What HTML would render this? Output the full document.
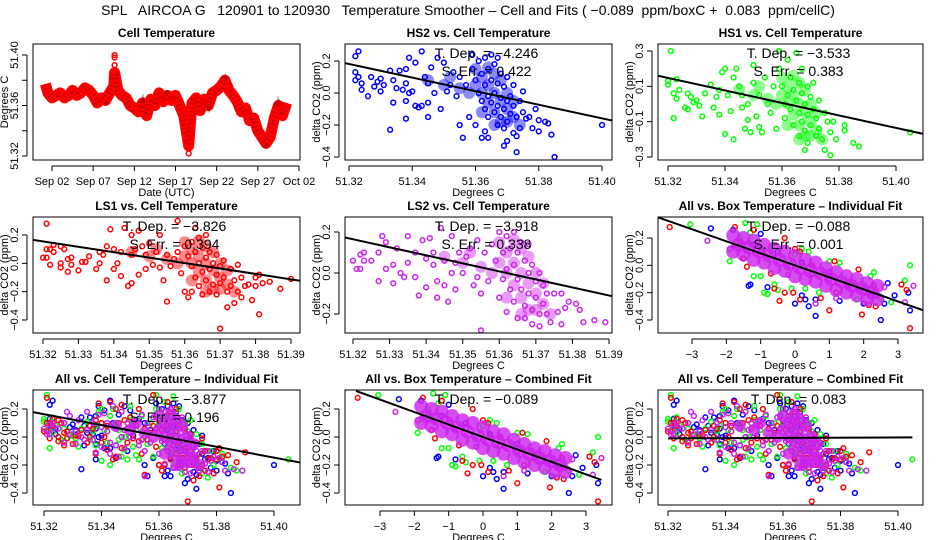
<!DOCTYPE html>
<html><head><meta charset="utf-8">
<style>
html,body{margin:0;padding:0;background:#fff;}
svg{display:block;font-family:"Liberation Sans",Arial,sans-serif;}
</style></head>
<body>
<svg id="chart" width="936" height="540" viewBox="0 0 936 540" xmlns="http://www.w3.org/2000/svg">
<rect width="936" height="540" fill="#fff"/>
<text x="468" y="15" font-size="14" text-anchor="middle" xml:space="preserve">SPL   AIRCOA G   120901 to 120930   Temperature Smoother – Cell and Fits ( −0.089  ppm/boxC +  0.083  ppm/cellC)</text>
</svg>
<script>
// ---- data ----
const cellDays = [1.2,1.5,2,2.5,3,3.5,4,4.5,5,5.5,6,6.5,7,7.5,8,8.5,9,9.5,9.6,10,10.5,11,11.5,12,12.5,13,13.5,14,14.5,15,15.5,16,16.5,17,17.5,18,18.3,18.6,19,19.5,20,20.5,21,21.5,22,22.5,23,23.5,24,24.5,25,25.5,26,26.5,27,27.5,28,28.5,29,29.5,30,30.5];
const cellTemps = [51.377,51.370,51.366,51.368,51.370,51.366,51.368,51.372,51.368,51.370,51.374,51.372,51.368,51.362,51.366,51.364,51.370,51.375,51.386,51.372,51.368,51.366,51.360,51.358,51.355,51.362,51.352,51.365,51.360,51.370,51.363,51.368,51.364,51.368,51.360,51.352,51.340,51.328,51.362,51.366,51.356,51.365,51.360,51.370,51.372,51.375,51.380,51.372,51.368,51.363,51.355,51.358,51.348,51.350,51.340,51.335,51.330,51.335,51.350,51.360,51.352,51.362];
const cellOutliers = [[9.6,51.400],[9.6,51.398],[9.6,51.392],[18.6,51.322],[18.6,51.326]];
const dayTicks = [2,7,12,17,22,27,32];
const dayLabels = ["Sep 02","Sep 07","Sep 12","Sep 17","Sep 22","Sep 27","Oct 02"];

const hs2 = [[51.322,0.23],[51.323,0.26],[51.322,0.13],[51.322,0.08],[51.323,0.1],[51.324,0.06],[51.324,0.02],[51.326,-0.02],[51.327,0.1],[51.328,0.04],[51.329,0.07],[51.330,0.09],[51.330,0.01],[51.331,0.05],[51.333,0.14],[51.333,-0.23],[51.334,0.08],[51.334,-0.06],[51.335,0.03],[51.336,0.14],[51.337,0.02],[51.338,0.15],[51.338,0.06],[51.338,-0.05],[51.338,-0.16],[51.339,0.22],[51.339,0.0],[51.340,0.01],[51.341,0.19],[51.341,-0.08],[51.342,-0.09],[51.343,0.26],[51.343,-0.08],[51.344,0.1],[51.345,0.06],[51.345,-0.06],[51.345,-0.15],[51.346,0.16],[51.347,0.0],[51.348,0.22],[51.349,-0.1],[51.350,0.19],[51.351,0.01],[51.352,0.05],[51.353,0.13],[51.354,-0.02],[51.355,0.1],[51.355,-0.2],[51.356,-0.28],[51.357,0.05],[51.358,-0.15],[51.359,0.24],[51.360,-0.2],[51.362,-0.28],[51.363,-0.24],[51.359,0.15],[51.360,0.08],[51.361,0.2],[51.361,0.0],[51.362,0.12],[51.362,-0.05],[51.363,0.22],[51.363,0.05],[51.363,-0.1],[51.364,0.15],[51.364,-0.02],[51.364,-0.15],[51.365,0.24],[51.365,0.08],[51.365,-0.06],[51.366,0.18],[51.366,0.0],[51.366,-0.12],[51.367,0.22],[51.367,0.06],[51.367,-0.08],[51.367,-0.2],[51.368,0.12],[51.368,-0.03],[51.368,-0.15],[51.369,0.04],[51.369,-0.1],[51.369,-0.22],[51.370,0.1],[51.370,-0.05],[51.370,-0.18],[51.371,-0.02],[51.371,-0.13],[51.372,0.05],[51.372,-0.08],[51.372,-0.25],[51.373,-0.15],[51.373,-0.27],[51.374,-0.05],[51.375,0.01],[51.375,-0.12],[51.376,-0.16],[51.374,-0.22],[51.369,-0.33],[51.373,-0.37],[51.377,-0.15],[51.378,-0.22],[51.379,-0.1],[51.380,-0.17],[51.380,-0.24],[51.382,-0.18],[51.383,-0.19],[51.384,-0.26],[51.385,-0.4],[51.400,-0.2],[51.364,-0.28],[51.370,-0.3]];
const hs1 = [[51.321,0.3],[51.320,0.13],[51.320,0.11],[51.322,-0.08],[51.322,0.06],[51.323,0.14],[51.323,0.03],[51.324,0.08],[51.326,-0.02],[51.327,0.06],[51.327,-0.03],[51.328,0.04],[51.329,0.01],[51.330,0.02],[51.331,-0.01],[51.332,-0.07],[51.333,0.06],[51.335,0.11],[51.336,-0.02],[51.337,0.04],[51.338,-0.06],[51.338,0.08],[51.339,0.18],[51.340,0.2],[51.340,-0.17],[51.341,0.05],[51.342,-0.04],[51.343,0.15],[51.343,-0.2],[51.344,0.2],[51.345,0.1],[51.346,0.05],[51.346,-0.02],[51.347,-0.14],[51.348,0.0],[51.348,-0.09],[51.349,-0.16],[51.350,0.22],[51.350,0.12],[51.351,-0.07],[51.352,0.05],[51.352,-0.13],[51.353,-0.16],[51.354,0.15],[51.355,0.0],[51.356,-0.05],[51.357,0.1],[51.358,-0.14],[51.359,0.3],[51.359,0.2],[51.360,0.1],[51.361,0.0],[51.361,-0.08],[51.362,0.25],[51.362,0.05],[51.363,0.15],[51.363,-0.03],[51.364,0.08],[51.364,-0.12],[51.365,0.29],[51.365,0.02],[51.366,0.12],[51.366,-0.05],[51.366,-0.18],[51.367,0.2],[51.367,0.06],[51.367,-0.1],[51.368,0.0],[51.368,-0.15],[51.369,0.1],[51.369,-0.06],[51.369,-0.22],[51.370,0.04],[51.370,-0.12],[51.371,0.12],[51.371,-0.03],[51.372,-0.08],[51.372,-0.18],[51.373,0.02],[51.373,-0.14],[51.374,-0.2],[51.375,-0.05],[51.375,-0.26],[51.376,-0.1],[51.377,-0.16],[51.377,-0.29],[51.368,-0.26],[51.378,-0.1],[51.379,-0.2],[51.382,-0.12],[51.382,-0.15],[51.385,-0.22],[51.387,-0.24],[51.405,-0.16]];
const ls1 = [[51.321,0.28],[51.320,0.04],[51.321,0.04],[51.321,0.1],[51.322,0.1],[51.322,-0.01],[51.323,0.13],[51.323,0.08],[51.325,0.12],[51.325,0.0],[51.325,-0.03],[51.326,0.1],[51.327,0.03],[51.327,-0.06],[51.328,0.04],[51.328,-0.01],[51.330,-0.05],[51.331,0.01],[51.332,0.01],[51.333,0.05],[51.335,-0.04],[51.336,0.08],[51.336,0.0],[51.337,0.06],[51.338,0.12],[51.338,-0.12],[51.339,0.24],[51.340,0.1],[51.340,-0.04],[51.341,0.0],[51.342,0.08],[51.342,-0.09],[51.343,0.25],[51.344,-0.16],[51.345,0.2],[51.345,0.06],[51.345,-0.14],[51.346,0.1],[51.347,0.23],[51.347,-0.08],[51.348,0.12],[51.349,0.06],[51.349,-0.04],[51.350,0.14],[51.351,-0.01],[51.352,0.08],[51.353,0.2],[51.353,-0.03],[51.354,-0.12],[51.355,-0.27],[51.355,0.06],[51.356,-0.02],[51.357,0.03],[51.358,0.3],[51.358,0.08],[51.359,-0.07],[51.360,0.12],[51.360,-0.2],[51.361,0.05],[51.361,-0.24],[51.362,0.15],[51.362,-0.02],[51.362,-0.2],[51.363,0.25],[51.363,0.08],[51.363,-0.1],[51.364,0.18],[51.364,0.0],[51.364,-0.16],[51.365,0.11],[51.365,-0.06],[51.365,-0.22],[51.366,0.2],[51.366,0.04],[51.366,-0.12],[51.367,0.08],[51.367,-0.04],[51.367,-0.2],[51.368,0.0],[51.368,-0.15],[51.369,0.06],[51.369,-0.08],[51.369,-0.22],[51.370,-0.02],[51.370,-0.46],[51.370,-0.14],[51.371,0.02],[51.371,-0.1],[51.372,-0.2],[51.372,-0.31],[51.373,-0.04],[51.373,-0.16],[51.374,-0.12],[51.374,-0.28],[51.375,-0.01],[51.375,-0.2],[51.376,-0.1],[51.376,-0.24],[51.377,-0.16],[51.378,-0.15],[51.379,-0.26],[51.380,-0.1],[51.380,-0.16],[51.381,-0.08],[51.381,-0.36],[51.382,-0.14],[51.384,-0.13],[51.387,-0.18],[51.390,-0.11]];
const ls2 = [[51.320,0.06],[51.321,0.02],[51.322,0.02],[51.322,0.09],[51.323,0.1],[51.323,0.06],[51.325,0.06],[51.327,-0.04],[51.327,0.1],[51.328,0.18],[51.329,0.15],[51.329,0.02],[51.331,0.04],[51.331,-0.05],[51.332,0.12],[51.333,0.0],[51.334,-0.02],[51.335,0.18],[51.335,0.05],[51.337,0.1],[51.337,-0.02],[51.338,-0.11],[51.339,0.16],[51.340,0.07],[51.340,-0.07],[51.341,0.17],[51.342,0.04],[51.342,0.1],[51.343,-0.04],[51.343,-0.12],[51.344,0.22],[51.345,0.06],[51.345,-0.06],[51.346,-0.14],[51.347,0.18],[51.347,0.0],[51.348,0.05],[51.348,-0.08],[51.349,0.1],[51.350,0.0],[51.351,0.08],[51.352,0.12],[51.353,-0.06],[51.354,0.16],[51.354,-0.02],[51.355,-0.1],[51.355,-0.28],[51.356,0.1],[51.357,-0.04],[51.358,0.14],[51.359,0.06],[51.360,0.2],[51.360,-0.12],[51.361,0.1],[51.361,-0.03],[51.362,0.18],[51.362,0.02],[51.362,-0.19],[51.363,0.12],[51.363,-0.08],[51.364,0.2],[51.364,0.04],[51.364,-0.14],[51.365,0.1],[51.365,-0.03],[51.365,-0.22],[51.366,0.15],[51.366,-0.08],[51.367,0.06],[51.367,-0.16],[51.367,-0.22],[51.368,0.14],[51.368,0.0],[51.368,-0.1],[51.369,0.04],[51.369,-0.18],[51.369,-0.25],[51.370,-0.04],[51.370,-0.12],[51.371,0.0],[51.371,-0.2],[51.371,-0.26],[51.372,-0.06],[51.372,-0.15],[51.373,-0.1],[51.373,-0.2],[51.374,-0.24],[51.375,-0.1],[51.376,-0.19],[51.377,-0.25],[51.377,-0.1],[51.378,-0.17],[51.379,-0.14],[51.381,-0.15],[51.382,-0.18],[51.383,-0.24],[51.386,-0.23],[51.389,-0.24]];

const boxBlue = [[-2.45,0.27],[-1.8,0.26],[-1.0,0.23],[-1.35,-0.15],[-1.3,-0.14],[-0.8,-0.16],[0.0,-0.28],[0.3,-0.25],[0.2,-0.22],[0.6,-0.25],[0.6,-0.37],[0.4,-0.3],[1.3,-0.26],[2.0,-0.28],[2.5,-0.4],[2.6,-0.28],[2.9,-0.22],[3.3,-0.2],[3.35,-0.33],[2.7,-0.13],[-1.2,0.15],[0.2,0.02],[-0.5,0.1],[1.5,-0.15],[1.0,-0.05],[-1.5,0.05],[2.2,-0.22]];
const boxGreen = [[-3.05,0.3],[-1.45,0.31],[-1.3,0.24],[-1.1,0.3],[-1.9,0.03],[-1.2,-0.08],[-1.0,-0.08],[-0.9,-0.2],[-0.8,-0.21],[-0.6,-0.14],[-0.5,-0.18],[-0.1,-0.17],[0.3,-0.17],[0.2,0.12],[0.4,0.1],[0.7,-0.2],[1.0,0.03],[1.3,0.02],[2.2,-0.08],[2.3,-0.05],[2.8,-0.27],[3.2,-0.11],[3.35,0.0],[1.8,-0.25],[-1.6,0.2],[0.0,0.08],[2.5,-0.24]];
const boxRed = [[-3.65,0.28],[-1.75,0.28],[-1.2,0.26],[-0.3,0.2],[-1.5,0.05],[-1.4,-0.01],[-0.7,-0.06],[-0.6,-0.17],[-0.3,-0.2],[-0.45,-0.26],[-0.05,-0.2],[0.15,-0.25],[0.0,0.12],[0.15,0.1],[0.75,-0.24],[1.0,-0.33],[1.15,0.03],[1.2,-0.2],[1.6,-0.12],[1.85,-0.03],[1.95,-0.36],[2.15,-0.29],[2.35,-0.3],[3.1,-0.14],[3.25,-0.18],[3.35,-0.46],[0.5,0.0],[2.3,-0.15]];
const boxPurple = [[-2.55,0.18],[-1.9,0.12],[-1.6,0.17],[-1.0,0.1],[-0.5,0.06],[0.0,-0.02],[0.5,-0.06],[1.0,-0.1],[1.5,-0.14],[2.0,-0.2],[2.4,-0.22],[2.6,-0.16],[0.6,-0.28],[3.2,-0.27],[3.45,-0.15],[-0.2,-0.07],[1.2,-0.24]];
const boxCore = [[-1.8,0.22],[-1.8,0.1],[-1.5,0.2],[-1.5,0.08],[-1.2,0.18],[-1.2,0.04],[-0.9,0.15],[-0.9,0.02],[-0.6,0.12],[-0.6,-0.02],[-0.3,0.1],[-0.3,-0.04],[0.0,0.07],[0.0,-0.08],[0.3,0.04],[0.3,-0.1],[0.6,0.02],[0.6,-0.12],[0.9,-0.02],[0.9,-0.15],[1.2,-0.05],[1.2,-0.18],[1.5,-0.08],[1.5,-0.2],[1.8,-0.1],[1.8,-0.22],[2.1,-0.13],[2.1,-0.25],[2.4,-0.15],[2.4,-0.25],[-1.65,0.15],[-1.05,0.1],[-0.45,0.04],[0.15,-0.02],[0.75,-0.06],[1.35,-0.12],[1.95,-0.17],[-1.35,0.13],[-0.75,0.07],[-0.15,0.01],[0.45,-0.04],[1.05,-0.1],[1.65,-0.15],[2.25,-0.2]];
const cellCore = [[51.360,0.15],[51.362,0.1],[51.364,0.05],[51.366,0.0],[51.368,-0.05],[51.370,-0.1],[51.372,-0.15],[51.362,0.0],[51.364,-0.06],[51.366,-0.12],[51.368,-0.18],[51.360,0.05],[51.366,0.12],[51.368,0.08],[51.350,0.05],[51.355,0.03],[51.358,0.0],[51.345,0.08],[51.372,-0.05],[51.374,-0.2],[51.364,0.16],[51.370,0.0],[51.362,-0.12],[51.366,-0.2],[51.352,0.1],[51.370,-0.18]];

const slopes = [-4.246,-3.533,-3.826,-3.918,-0.088,-3.877,-0.089,0.083];
const zeroTemps = [51.3627,51.3617,51.3605,51.362,0,51.362,0,51.38];
const stdErrs = [0.422,0.383,0.394,0.338,0.001,0.196];

const C = {blue:"#0000ff",green:"#00ff00",red:"#ff0000",purple:"#cc22ee"};
const svg = document.getElementById('chart');
const NS = "http://www.w3.org/2000/svg";
function mk(tag, attrs, parent){
  const e = document.createElementNS(NS, tag);
  for (const k in attrs) e.setAttribute(k, attrs[k]);
  (parent||svg).appendChild(e);
  return e;
}
function lin(v1,p1,v2,p2){ return v => p1 + (v - v1) * (p2 - p1) / (v2 - v1); }

let clipId = 0;
function panel(o){
  const g = mk('g', {});
  
  
  const sx = lin(o.xv[0],o.xv[1],o.xv[2],o.xv[3]);
  const sy = lin(o.yv[0],o.yv[1],o.yv[2],o.yv[3]);
  const t = mk('text', {x:(o.box[0]+o.box[2])/2, y:o.box[1]-7, 'font-size':12, 'font-weight':'bold', 'text-anchor':'middle'}, g);
  t.textContent = o.title;
  
  
  const cid = 'clip' + (clipId++);
  const cp = mk('clipPath', {id:cid}, g);
  mk('rect', {x:o.box[0], y:o.box[1], width:o.box[2]-o.box[0], height:o.box[3]-o.box[1]}, cp);
  const marks = mk('g', {}, g);
  
  
  o.draw(marks, sx, sy, cid);
  const fr = mk('rect', {x:o.box[0], y:o.box[1], width:o.box[2]-o.box[0], height:o.box[3]-o.box[1], fill:'none', stroke:'#000', 'stroke-width':1}, g);
  
  
  const xa = mk('g', {}, g);
  
  
  const yb = o.box[3] + 6;
  const xt = o.xticks.map(sx);
  mk('line', {x1:xt[0], x2:xt[xt.length-1], y1:yb, y2:yb, stroke:'#000'}, xa);
  o.xticks.forEach((v,i) => {
    mk('line', {x1:xt[i], x2:xt[i], y1:yb, y2:yb+5, stroke:'#000'}, xa);
    const lt = mk('text', {x:xt[i], y:yb+19, 'font-size':11, 'text-anchor':'middle'}, xa);
    lt.textContent = o.xlabels[i];
    
    
  });
  const xl = mk('text', {x:(o.box[0]+o.box[2])/2, y:o.box[3]+36, 'font-size':11, 'text-anchor':'middle'}, g);
  xl.textContent = o.xtitle;
  
  
  const ya = mk('g', {}, g);
  
  
  const xb = o.box[0] - 6;
  const yt = o.yticks.map(sy);
  mk('line', {x1:xb, x2:xb, y1:yt[0], y2:yt[yt.length-1], stroke:'#000'}, ya);
  o.yticks.forEach((v,i) => {
    mk('line', {x1:xb, x2:xb-5, y1:yt[i], y2:yt[i], stroke:'#000'}, ya);
    if (o.ylabels[i] !== '') {
      const lt = mk('text', {x:0, y:0, 'font-size':11, 'text-anchor':'middle', transform:`translate(${xb-9},${yt[i]}) rotate(-90)`}, ya);
      lt.textContent = o.ylabels[i];
      
      
    }
  });
  const yl = mk('text', {x:0, y:0, 'font-size':11, 'text-anchor':'middle', transform:`translate(${o.box[0]-25},${(o.box[1]+o.box[3])/2}) rotate(-90)`}, g);
  yl.textContent = o.ytitle;
  
  
  if (o.ann) {
    o.ann.forEach((s,i) => {
      const a = mk('text', {x:(o.box[0]+o.box[2])/2+8, y:o.box[1]+14+i*18, 'font-size':14, 'text-anchor':'middle', 'xml:space':'preserve'}, g);
      a.textContent = s;
      
      
    });
  }
}
function points(g, data, sx, sy, col){
  data.forEach(d => {
    const c = mk('circle', {cx:sx(d[0]), cy:sy(d[1]), r:2.4, fill:'none', stroke:col, 'stroke-width':1.5}, g);
    
    
  });
}
function core(g, data, sx, sy, col, r, op){
  data.forEach(d => {
    const c = mk('circle', {cx:sx(d[0]), cy:sy(d[1]), r:r||6, fill:col, 'fill-opacity':op||0.75}, g);
    
    
  });
}
function fit(g, k, x0, x1, sx, sy, cid){
  const f = x => slopes[k]*(x - zeroTemps[k]) + (k===7 ? -0.005 : 0);
  const l = mk('line', {x1:sx(x0), y1:sy(f(x0)), x2:sx(x1), y2:sy(f(x1)), stroke:'#000', 'stroke-width':2, 'clip-path':`url(#${cid})`}, g);
  
  
}
const fmt = v => (v<0?'−':'') + Math.abs(v).toFixed(3);
const tdep = k => `T. Dep. =  ${fmt(slopes[k])}`;
const serr = k => `S. Err. =  ${stdErrs[k].toFixed(3)}`;
const cellX2 = [51.32,51.34,51.36,51.38,51.40];
const cellX2L = cellX2.map(v=>v.toFixed(2));
const cellX1 = [51.32,51.33,51.34,51.35,51.36,51.37,51.38,51.39];
const cellX1L = cellX1.map(v=>v.toFixed(2));
const yT = [-0.4,-0.2,0,0.2];
const yTL = ["−0.4","−0.2","0.0","0.2"];
const boxX = [-3,-2,-1,0,1,2,3];
const boxXL = ["−3","−2","−1","0","1","2","3"];
const col1=[33,300], col2=[345,612], col3=[658,923];
const row1=[44,160], row2=[217,333], row3=[390,505];

panel({name:'cell-temperature-panel', title:'Cell Temperature', box:[col1[0],row1[0],col1[1],row1[1]],
  xv:[2,52,32,299], yv:[51.40,55,51.32,156], xticks:dayTicks, xlabels:dayLabels,
  yticks:[51.32,51.34,51.36,51.38,51.40], ylabels:['51.32','','51.36','','51.40'],
  xtitle:'Date (UTC)', ytitle:'Degrees C',
  draw:(g,sx,sy)=>{
    const pts = cellDays.map((d,i)=>sx(d)+','+sy(cellTemps[i])).join(' ');
    const pl = mk('polyline', {points:pts, fill:'none', stroke:'#ff0000', 'stroke-width':11, 'stroke-linejoin':'round'}, g);
    
    
    const pl2 = mk('polyline', {points:pts, fill:'none', stroke:'#550000', 'stroke-width':7, 'stroke-dasharray':'1,3', 'stroke-opacity':0.35}, g);
    
    
    cellOutliers.forEach(d=>{
      const c = mk('circle', {cx:sx(d[0]), cy:sy(d[1]), r:2.4, fill:'none', stroke:'#ff0000', 'stroke-width':1.5}, g);
      
      
    });
  }});
panel({name:'hs2-panel', title:'HS2 vs. Cell Temperature', box:[col2[0],row1[0],col2[1],row1[1]],
  xv:[51.32,349,51.40,602], yv:[0.2,61,-0.4,157], xticks:cellX2, xlabels:cellX2L, yticks:yT, ylabels:yTL,
  xtitle:'Degrees C', ytitle:'delta CO2 (ppm)', ann:[tdep(0),serr(0)],
  draw:(g,sx,sy,cid)=>{ core(g,cellCore,sx,sy,C.blue,6,0.45); points(g,hs2,sx,sy,C.blue); fit(g,0,51.30,51.42,sx,sy,cid); }});
panel({name:'hs1-panel', title:'HS1 vs. Cell Temperature', box:[col3[0],row1[0],col3[1],row1[1]],
  xv:[51.32,668,51.40,896], yv:[0.3,51,-0.3,157], xticks:cellX2, xlabels:cellX2L,
  yticks:[-0.3,-0.1,0.1,0.3], ylabels:['−0.3','−0.1','0.1','0.3'],
  xtitle:'Degrees C', ytitle:'delta CO2 (ppm)', ann:[tdep(1),serr(1)],
  draw:(g,sx,sy,cid)=>{ core(g,cellCore,sx,sy,C.green,6,0.45); points(g,hs1,sx,sy,C.green); fit(g,1,51.30,51.42,sx,sy,cid); }});
panel({name:'ls1-panel', title:'LS1 vs. Cell Temperature', box:[col1[0],row2[0],col1[1],row2[1]],
  xv:[51.32,43,51.39,291], yv:[0.2,235,-0.4,320], xticks:cellX1, xlabels:cellX1L, yticks:yT, ylabels:yTL,
  xtitle:'Degrees C', ytitle:'delta CO2 (ppm)', ann:[tdep(2),serr(2)],
  draw:(g,sx,sy,cid)=>{ core(g,cellCore,sx,sy,C.red,6,0.45); points(g,ls1,sx,sy,C.red); fit(g,2,51.30,51.42,sx,sy,cid); }});
panel({name:'ls2-panel', title:'LS2 vs. Cell Temperature', box:[col2[0],row2[0],col2[1],row2[1]],
  xv:[51.32,353,51.39,609], yv:[0.2,232,-0.2,314], xticks:cellX1, xlabels:cellX1L,
  yticks:[-0.2,0,0.2], ylabels:['−0.2','0.0','0.2'],
  xtitle:'Degrees C', ytitle:'delta CO2 (ppm)', ann:[tdep(3),serr(3)],
  draw:(g,sx,sy,cid)=>{ core(g,cellCore,sx,sy,C.purple,6,0.45); points(g,ls2,sx,sy,C.purple); fit(g,3,51.30,51.42,sx,sy,cid); }});
panel({name:'all-box-individual-panel', title:'All vs. Box Temperature – Individual Fit', box:[col3[0],row2[0],col3[1],row2[1]],
  xv:[-3,692,3,898], yv:[0.2,238,-0.4,320], xticks:boxX, xlabels:boxXL, yticks:yT, ylabels:yTL,
  xtitle:'Degrees C', ytitle:'delta CO2 (ppm)', ann:[tdep(4),serr(4)],
  draw:(g,sx,sy,cid)=>{ points(g,boxBlue,sx,sy,C.blue); points(g,boxGreen,sx,sy,C.green); points(g,boxRed,sx,sy,C.red); core(g,boxCore,sx,sy,C.purple,7,0.8); points(g,boxPurple,sx,sy,C.purple); fit(g,4,-5,5,sx,sy,cid); }});
panel({name:'all-cell-individual-panel', title:'All vs. Cell Temperature – Individual Fit', box:[col1[0],row3[0],col1[1],row3[1]],
  xv:[51.32,44,51.40,274], yv:[0.2,409,-0.4,493], xticks:cellX2, xlabels:cellX2L, yticks:yT, ylabels:yTL,
  xtitle:'Degrees C', ytitle:'delta CO2 (ppm)', ann:[tdep(5),serr(5)],
  draw:(g,sx,sy,cid)=>{ points(g,hs2,sx,sy,C.blue); points(g,hs1,sx,sy,C.green); points(g,ls1,sx,sy,C.red); core(g,cellCore,sx,sy,C.purple,6,0.8); points(g,ls2,sx,sy,C.purple); fit(g,5,51.30,51.42,sx,sy,cid); }});
panel({name:'all-box-combined-panel', title:'All vs. Box Temperature – Combined Fit', box:[col2[0],row3[0],col2[1],row3[1]],
  xv:[-3,380,3,586], yv:[0.2,409,-0.4,493], xticks:boxX, xlabels:boxXL, yticks:yT, ylabels:yTL,
  xtitle:'Degrees C', ytitle:'delta CO2 (ppm)', ann:[tdep(6)],
  draw:(g,sx,sy,cid)=>{ points(g,boxBlue,sx,sy,C.blue); points(g,boxGreen,sx,sy,C.green); points(g,boxRed,sx,sy,C.red); core(g,boxCore,sx,sy,C.purple,7,0.8); points(g,boxPurple,sx,sy,C.purple); fit(g,6,-3.7,3.45,sx,sy,cid); }});
panel({name:'all-cell-combined-panel', title:'All vs. Cell Temperature – Combined Fit', box:[col3[0],row3[0],col3[1],row3[1]],
  xv:[51.32,668,51.40,898], yv:[0.2,409,-0.4,493], xticks:cellX2, xlabels:cellX2L, yticks:yT, ylabels:yTL,
  xtitle:'Degrees C', ytitle:'delta CO2 (ppm)', ann:[tdep(7)],
  draw:(g,sx,sy,cid)=>{ points(g,hs2,sx,sy,C.blue); points(g,hs1,sx,sy,C.green); points(g,ls1,sx,sy,C.red); core(g,cellCore,sx,sy,C.purple,6,0.8); points(g,ls2,sx,sy,C.purple); fit(g,7,51.32,51.405,sx,sy,cid); }});
</script>
</body></html>
